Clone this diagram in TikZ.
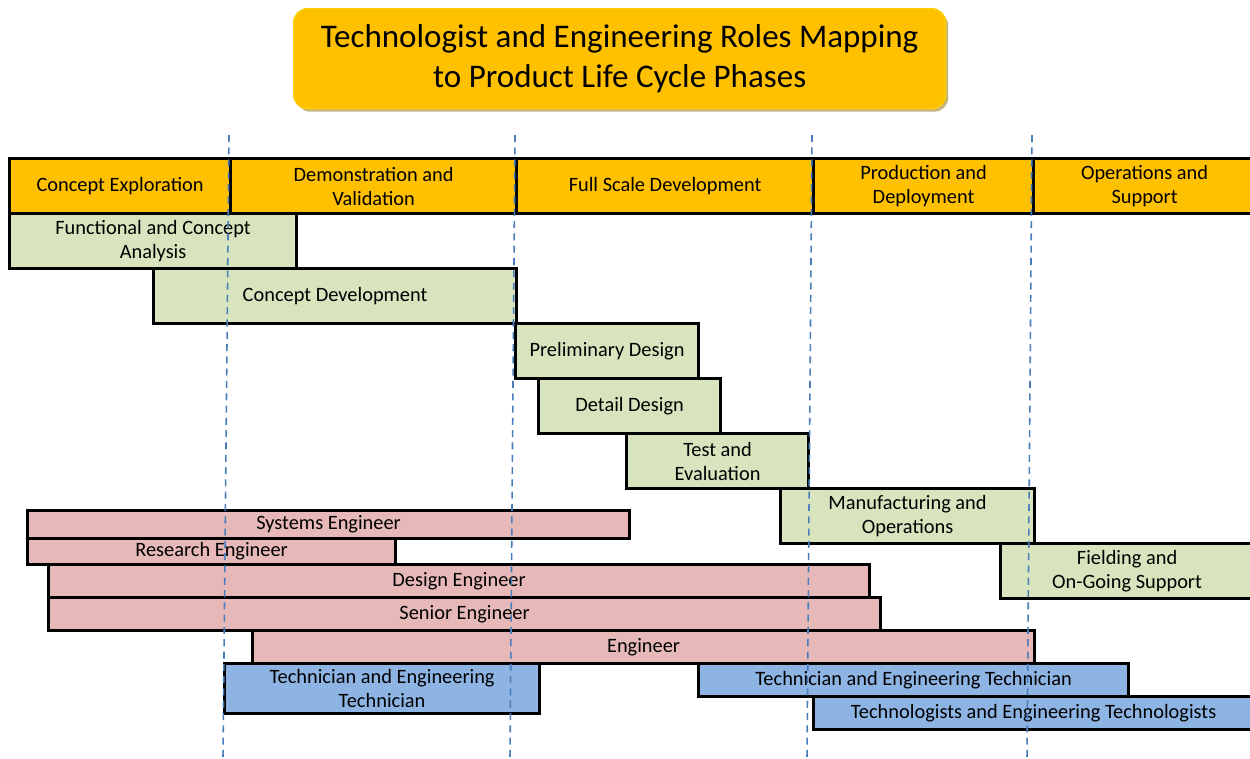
\documentclass[tikz,border=0pt]{standalone}
\usepackage{fontspec}
\setmainfont{Carlito}
\usepackage{xcolor}
\usepackage{tikz}
\usetikzlibrary{positioning,shadows}
\definecolor{gold}{HTML}{FFC000}
\definecolor{taskgreen}{HTML}{D7E4BD}
\definecolor{engpink}{HTML}{E6B9B8}
\definecolor{techblue}{HTML}{8EB4E3}
\definecolor{guideblue}{HTML}{4A7EBB}
\begin{document}
\begin{tikzpicture}[x=0.02cm, y=-0.02cm, font=\fontsize{11.6}{13.7}\selectfont,
  every node/.style={anchor=north west, align=center, inner sep=1pt},
  sz/.style 2 args={minimum width=#1*0.02cm, minimum height=#2*0.02cm},
  bar/.style={draw=black, line width=1.8pt, drop shadow={shadow xshift=0.03cm, shadow yshift=-0.03cm, opacity=0.25}},
  phase/.style={bar, fill=gold},
  task/.style={bar, fill=taskgreen},
  eng/.style={bar, fill=engpink},
  tech/.style={bar, fill=techblue},
  guide/.style={draw=guideblue, line width=0.9pt, dash pattern=on 4pt off 3pt}]
\useasboundingbox (0,0) rectangle (1250,758);

% Title
\node[fill=gold, draw=gold!80!yellow, line width=0.8pt, rounded corners=0.28cm, sz={652}{100},
  drop shadow={shadow xshift=0.05cm, shadow yshift=-0.06cm, fill=gold!55!black, opacity=0.5},
  font=\fontsize{18.8}{23}\selectfont] (title) at (293,8)
  {Technologist and Engineering Roles Mapping\\to Product Life Cycle Phases};

% Life cycle phases
\node[phase, sz={221}{55}] (explore) at (8,157) {Concept Exploration};
\node[phase, sz={286}{55}] (demo) at (229,157) {Demonstration and\\Validation};
\node[phase, sz={297}{55}] (fullscale) at (515,157) {Full Scale Development};
\node[phase, sz={220}{55}] (production) at (812,157) {Production and\\Deployment};
\node[phase, sz={222}{55}] (operations) at (1032,157) {Operations and\\Support};

% Activities
\node[task, sz={287}{55}] (analysis) at (8,212) {Functional and Concept\\Analysis};
\node[task, sz={363}{55}] (conceptdev) at (152,267) {Concept Development};
\node[task, sz={183}{55}] (prelim) at (514,322) {Preliminary Design};
\node[task, sz={182}{55}] (detail) at (537,377) {Detail Design};
\node[task, sz={182}{55}] (testeval) at (625,432) {Test and\\Evaluation};
\node[task, sz={254}{55}] (manufact) at (779,487) {Manufacturing and\\Operations};
\node[task, sz={253}{55}] (fielding) at (999,542) {Fielding and\\On-Going Support};

% Engineering roles
\node[eng, sz={602}{28}] (systems) at (26,509) {Systems Engineer};
\node[eng, sz={368}{26}] (research) at (26,537) {Research Engineer};
\node[eng, sz={821}{33}] (design) at (47,563) {Design Engineer};
\node[eng, sz={832}{33}] (senior) at (47,596) {Senior Engineer};
\node[eng, sz={782}{33}] (engineer) at (251,629) {Engineer};

% Technician and technologist roles
\node[tech, sz={315}{50}] (techearly) at (223,662) {Technician and Engineering\\Technician};
\node[tech, sz={430}{33}] (techlate) at (697,662) {Technician and Engineering Technician};
\node[tech, sz={440}{33}] (technologists) at (812,695) {Technologists and Engineering Technologists};

% Phase boundaries
\draw[guide] (229,135) -- (223,758);
\draw[guide] (515,135) -- (510,758);
\draw[guide] (812,135) -- (807,758);
\draw[guide] (1032,135) -- (1027,758);
\end{tikzpicture}
\end{document}
